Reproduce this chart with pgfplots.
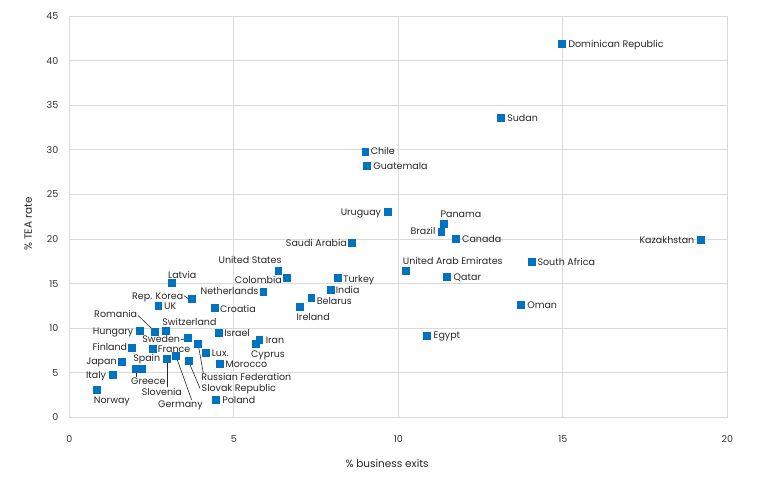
\documentclass[border=0pt]{standalone}
\usepackage{pgfplots}
\pgfplotsset{compat=1.18}
\usepackage{pgfplotstable}
\usepackage{fontspec}
\setmainfont{Poppins}
\definecolor{mk}{RGB}{0,114,194}
\definecolor{txt}{RGB}{38,38,38}
\definecolor{gridc}{RGB}{217,217,217}
% label boxes: dx (pt, right +), dy (pt, up +), text
\protected\def\LW#1#2#3{\makebox[0pt][l]{\hspace*{#1pt}\raisebox{\dimexpr#2pt-3.3pt\relax}[0pt][0pt]{#3}}}
\protected\def\LE#1#2#3{\makebox[0pt][r]{\raisebox{\dimexpr#2pt-3.3pt\relax}[0pt][0pt]{#3}\hspace*{-#1pt}}}
\protected\def\LC#1#2#3{\makebox[0pt][c]{\hspace*{#1pt}\hspace*{#1pt}\raisebox{\dimexpr#2pt-3.3pt\relax}[0pt][0pt]{#3}}}

\pgfplotstableread[col sep=comma]{
x,y,label
14.97,41.87,\LW{6.6}{0}{Dominican Republic}
13.13,33.54,\LW{6}{0}{Sudan}
9.00,29.80,\LW{5.4}{0}{Chile}
9.06,28.16,\LW{6}{0}{Guatemala}
9.68,23.00,\LE{-6.7}{0}{Uruguay}
11.38,21.69,\LC{17.3}{9.7}{Panama}
11.31,20.83,\LE{-6}{0}{Brazil}
11.76,20.01,\LW{6}{-0.7}{Canada}
8.59,19.56,\LE{-5}{0}{Saudi Arabia}
19.20,19.87,\LE{-6.7}{0}{Kazakhstan}
14.06,17.43,\LW{5.7}{0}{South Africa}
10.24,16.46,\LW{-3.3}{9}{United Arab Emirates}
11.49,15.78,\LW{6.4}{0}{Qatar}
13.72,12.58,\LW{6.6}{-0.4}{Oman}
10.87,9.14,\LW{6.7}{0.3}{Egypt}
8.16,15.64,\LW{5.6}{-1}{Turkey}
6.36,16.46,\LE{3}{10}{United States}
6.61,15.64,\LE{-5}{-2}{Colombia}
7.95,14.29,\LW{5}{0}{India}
5.90,14.10,\LE{-5}{0}{Netherlands}
7.36,13.36,\LW{5.4}{-3.4}{Belarus}
7.02,12.42,\LW{-3.6}{-11}{Ireland}
4.44,12.28,\LW{4.7}{-1}{Croatia}
3.11,15.04,\LW{-3.4}{8.6}{Latvia}
3.72,13.32,\LE{-8.4}{2.7}{Rep. Korea}
2.71,12.50,\LW{5.7}{0}{UK}
2.93,9.73,\LW{-3.4}{8.4}{Switzerland}
2.15,9.70,\LE{-6.7}{0}{Hungary}
2.60,9.62,\LE{-17.7}{17.4}{Romania}
4.54,9.47,\LW{5.6}{0}{Israel}
3.60,8.88,\LE{-7.7}{-1.4}{Sweden}
3.92,8.24,\LW{3}{-33.3}{Russian Federation}
5.78,8.72,\LW{6.4}{-1}{Iran}
5.67,8.27,\LW{-4.7}{-10.3}{Cyprus}
1.91,7.79,\LE{-5}{1}{Finland}
2.55,7.65,\LW{4.7}{0}{France}
4.16,7.20,\LW{5.7}{-0.4}{Lux.}
4.57,6.00,\LW{6}{-0.7}{Morocco}
1.60,6.22,\LE{-5.3}{0.7}{Japan}
2.01,5.44,\LW{-4.3}{-12.7}{Greece}
2.20,5.44,\LW{-8.4}{10.3}{Spain}
2.98,6.59,\LC{-5.5}{-33}{Slovenia}
3.25,6.86,\LC{4.2}{-48.4}{Germany}
3.63,6.37,\LW{13}{-27.6}{Slovak Republic}
1.32,4.73,\LE{-6.7}{0}{Italy}
0.85,3.05,\LW{-3.3}{-10}{Norway}
4.47,1.93,\LW{6}{0}{Poland}
}\data

\begin{document}
\begin{tikzpicture}
\useasboundingbox (-69.3pt,-66.5pt) rectangle (695.7pt,417.5pt);
\begin{axis}[
  at={(0,0)}, anchor=south west,
  scale only axis,
  width=658pt, height=401.5pt,
  xmin=0, xmax=20, ymin=0, ymax=45,
  xtick={0,5,10,15,20},
  ytick={0,5,...,45},
  grid=major,
  grid style={draw=gridc, line width=0.8pt},
  axis line style={draw=gridc, line width=0.8pt},
  major tick length=0pt,
  /pgf/number format/assume math mode=true,
  tick label style={font=\fontsize{9.5}{11}\selectfont, text=black!80},
  yticklabel style={xshift=-7.5pt},
  xticklabel style={yshift=-14.5pt},
  xlabel={\% business exits},
  ylabel={\% TEA rate},
  label style={font=\fontsize{10.5}{12}\selectfont, text=txt},
  xlabel style={at={(axis description cs:0.483,-0.114)}, anchor=center},
  ylabel style={at={(axis description cs:-0.0623,0.482)}, anchor=center},
  clip=false,
]
% leader lines
\addplot[black!85, line width=0.6pt] coordinates {(3.486,13.65) (3.647,13.25)};
\addplot[black!85, line width=0.6pt] coordinates {(2.097,11.41) (2.574,9.73)};
\addplot[black!85, line width=0.6pt] coordinates {(3.386,8.72) (3.538,8.80)};
\addplot[black!85, line width=0.6pt] coordinates {(2.027,5.21) (2.027,4.57)};
\addplot[black!85, line width=0.6pt] coordinates {(2.979,6.45) (2.979,3.45)};
\addplot[black!85, line width=0.6pt] coordinates {(3.252,6.78) (3.720,1.96)};
\addplot[black!85, line width=0.6pt] coordinates {(3.629,6.26) (3.973,3.27)};
\addplot[black!85, line width=0.6pt] coordinates {(3.921,8.13) (4.073,4.96)};
% points with labels
\addplot[only marks, mark=square*, mark size=3.4pt,
  mark options={fill=mk, draw=mk, line width=0pt},
  nodes near coords,
  point meta=explicit symbolic,
  every node near coord/.append style={anchor=center, inner sep=0pt,
    font=\fontsize{9.5}{11}\selectfont, text=txt},
] table[x=x, y=y, meta=label] {\data};
\end{axis}
\end{tikzpicture}
\end{document}
